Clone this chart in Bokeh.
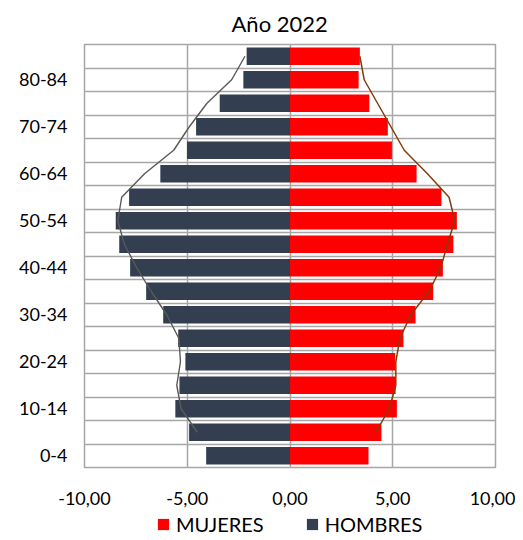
import numpy as np
from bokeh.plotting import figure
from bokeh.layouts import column
from bokeh.models import FixedTicker, Legend, LegendItem
from bokeh.embed import file_html
from bokeh.resources import INLINE

grupos = ["0-4", "5-9", "10-14", "15-19", "20-24", "25-29", "30-34", "35-39",
          "40-44", "45-49", "50-54", "55-59", "60-64", "65-69", "70-74",
          "75-79", "80-84", "85+"]
hombres = [-4.08, -4.91, -5.58, -5.38, -5.09, -5.44, -6.17, -7.00, -7.78,
           -8.31, -8.48, -7.83, -6.31, -5.01, -4.57, -3.42, -2.27, -2.11]
mujeres = [3.82, 4.45, 5.20, 5.14, 5.12, 5.52, 6.11, 6.97, 7.44,
           7.95, 8.12, 7.37, 6.16, 4.96, 4.76, 3.86, 3.34, 3.40]
hombres_linea = [np.nan, -4.51, -5.30, -5.51, -5.33, -5.41, -6.00, -6.76, -7.46,
                 -8.06, -8.38, -8.19, -7.08, -5.66, -4.90, -4.04, -2.84, -2.19]
mujeres_linea = [np.nan, 4.18, 4.83, 5.15, 5.15, 5.35, 5.88, 6.77, 7.34,
                 7.66, 8.02, 7.74, 6.69, 5.56, 4.91, 4.26, 3.61, 3.40]
x_ticks = [-10, -5, 0, 5, 10]

FONT = "Lato"
COL_H = "#333F50"
COL_M = "#FF0000"
y = np.arange(len(grupos))

p = figure(width=515, height=510, output_backend="svg", toolbar_location=None,
           x_range=(-10, 10), y_range=(-0.5, len(grupos) - 0.5),
           min_border_left=84, min_border_right=20, min_border_top=44,
           min_border_bottom=43, title="Año 2022")
p.title.align = "left"
p.title.offset = 147
p.title.standoff = 15
p.title.text_font = FONT
p.title.text_font_size = "22px"
p.title.text_font_style = "normal"
p.title.text_color = "#000000"

r_h = p.hbar(y=y, left=0, right=hombres, height=0.75, color=COL_H, line_color=None)
r_m = p.hbar(y=y, left=0, right=mujeres, height=0.75, color=COL_M, line_color=None)
p.line(x=np.array(hombres_linea), y=y, line_color="#595959", line_width=1.4)
p.line(x=np.array(mujeres_linea), y=y, line_color="#843C0C", line_width=1.5)

p.xaxis.ticker = FixedTicker(ticks=x_ticks)
p.xaxis.major_label_overrides = {t: f"{t:.2f}".replace(".", ",") for t in x_ticks}
p.yaxis.ticker = FixedTicker(ticks=list(range(0, len(grupos), 2)))
p.yaxis.major_label_overrides = {i: grupos[i] for i in range(0, len(grupos), 2)}

for ax in (p.xaxis[0], p.yaxis[0]):
    ax.axis_line_color = None
    ax.major_tick_line_color = None
    ax.minor_tick_line_color = None
    ax.major_label_text_font = FONT
    ax.major_label_text_font_size = "18px"
    ax.major_label_text_color = "#000000"
p.xaxis.major_label_standoff = 18
p.yaxis.major_label_standoff = 11

p.xgrid.ticker = FixedTicker(ticks=x_ticks)
p.ygrid.ticker = FixedTicker(ticks=[i - 0.5 for i in range(len(grupos) + 1)])
for g in (p.xgrid[0], p.ygrid[0]):
    g.grid_line_color = "#A6A6A6"
    g.grid_line_width = 1.5
p.outline_line_color = "#A6A6A6"
p.outline_line_width = 1.5

# legend strip below the chart
q = figure(width=515, height=30, output_backend="svg", toolbar_location=None,
           x_range=(100, 101), y_range=(100, 101), x_axis_type=None, y_axis_type=None,
           min_border=0)
q.outline_line_color = None
q.xgrid.visible = False
q.ygrid.visible = False
l_h = q.hbar(y=y, left=0, right=hombres, height=0.75, color=COL_H, line_color=None)
l_m = q.hbar(y=y, left=0, right=mujeres, height=0.75, color=COL_M, line_color=None)

legend = Legend(items=[LegendItem(label="MUJERES", renderers=[l_m]),
                       LegendItem(label="HOMBRES", renderers=[l_h])],
                orientation="horizontal", location=(72, 4))
legend.label_text_font = FONT
legend.label_text_font_size = "20px"
legend.label_text_color = "#000000"
legend.glyph_width = 14
legend.glyph_height = 14
legend.label_standoff = 6
legend.spacing = 41
legend.border_line_color = None
legend.background_fill_alpha = 0
legend.padding = 0
legend.margin = 0
q.add_layout(legend, "center")

open("out.html", "w").write(file_html(column(p, q, spacing=0), INLINE))
